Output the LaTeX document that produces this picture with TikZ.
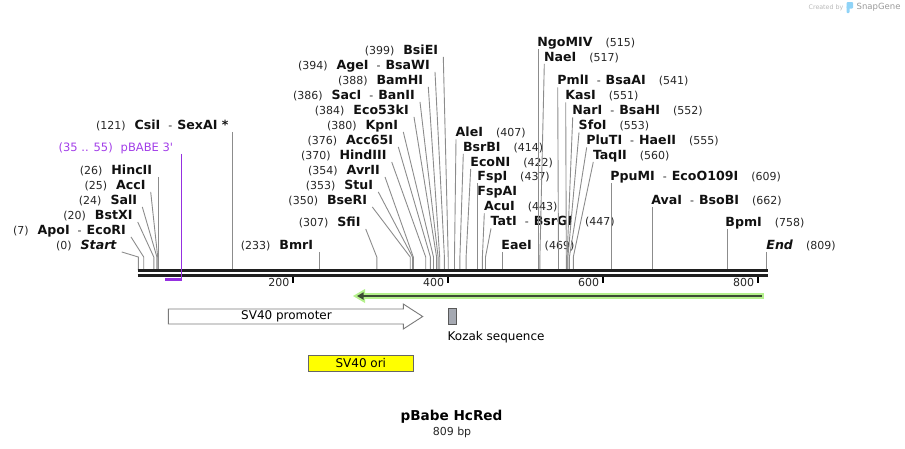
\documentclass[tikz,border=0pt]{standalone}
\usepackage{fontspec}
\setmainfont{DejaVu Sans}
\usetikzlibrary{arrows.meta}
\definecolor{conncol}{HTML}{8C8C8C}
\definecolor{labcol}{HTML}{111111}
\definecolor{numcol}{HTML}{262626}
\definecolor{purp}{HTML}{A23EE8}
\definecolor{purpline}{HTML}{9530E0}
\definecolor{greenglow}{HTML}{B4F08C}
\definecolor{greendark}{HTML}{3C4A34}
\definecolor{promgray}{HTML}{7A7A7A}
\definecolor{kozfill}{HTML}{A5A9B2}
\definecolor{oriyellow}{HTML}{FFFF00}
\definecolor{logoblue}{HTML}{8FD3F7}
\newcommand{\enz}[1]{{\fontsize{12.6}{14}\selectfont\bfseries #1}}
\newcommand{\bpnum}[1]{{\fontsize{11}{13}\selectfont\color{numcol}#1}}
\newcommand{\gapl}{\hspace{9pt}}
\newcommand{\gapr}{\hspace{13pt}}
\newcommand{\dashsep}{\hspace{8pt}\bpnum{-}\hspace{5pt}}
\begin{document}
\begin{tikzpicture}[x=1pt,y=-1pt,
  lab/.style={inner sep=0pt, text height=9pt, text depth=2.5pt, text=labcol},
  labl/.style={lab, anchor=east},
  labr/.style={lab, anchor=west},
  conn/.style={draw=conncol, line width=0.9pt},
  bb/.style={line width=2.9pt, draw=black!88},
  tickmark/.style={line width=2pt, draw=black},
  ticklab/.style={inner sep=0pt, font=\fontsize{11}{13}\selectfont, anchor=east, text=numcol},
  feattext/.style={font=\fontsize{12}{14}\selectfont, text=black}]

\useasboundingbox (0,0) rectangle (905,448);

% site coordinates on the backbone and elbows
\foreach \n/\x in {0/138.3, 7/143.7, 20/153.8, 24/156.9, 25/157.7, 26/158.5,
  55/181.0, 121/232.3, 233/319.3, 307/376.8, 350/410.2, 353/412.5, 354/413.3,
  370/425.7, 376/430.4, 380/433.5, 384/436.6, 386/438.1, 388/439.7, 394/444.4,
  399/448.2, 407/454.5, 414/459.9, 422/466.1, 437/477.8, 443/482.4, 447/485.5,
  469/502.6, 515/538.4, 517/539.9, 541/558.5, 551/566.3, 552/567.1, 553/567.9,
  555/569.4, 560/573.3, 609/611.4, 662/652.5, 758/727.1, 809/766.7}{
  \coordinate (s\n) at (\x,270);
  \coordinate (e\n) at (\x,257);
}

% ---------- left-hand labels ----------
\node[labl] (lStart) at (116.7,246) {\bpnum{(0)}\gapl\enz{\itshape Start}};
\node[labl] (lApo) at (126,231) {\bpnum{(7)}\gapl\enz{ApoI}\dashsep\enz{EcoRI}};
\node[labl] (lBstX) at (132.7,216) {\bpnum{(20)}\gapl\enz{BstXI}};
\node[labl] (lSal) at (137.3,201) {\bpnum{(24)}\gapl\enz{SalI}};
\node[labl] (lAcc) at (145.7,186) {\bpnum{(25)}\gapl\enz{AccI}};
\node[labl] (lHinc) at (152.3,171) {\bpnum{(26)}\gapl\enz{HincII}};
\node[labl, text=purp] (lPb) at (173.3,148) {{\fontsize{11.5}{14}\selectfont (35 .. 55)\hspace{8pt}pBABE 3\textquotesingle}};
\node[labl] (lCsi) at (228.7,126) {\bpnum{(121)}\gapl\enz{CsiI}\dashsep\enz{SexAI *}};
\node[labl] (lBmr) at (313.3,246) {\bpnum{(233)}\gapl\enz{BmrI}};
\node[labl] (lSfi) at (360.7,223) {\bpnum{(307)}\gapl\enz{SfiI}};
\node[labl] (lBseR) at (367.3,201) {\bpnum{(350)}\gapl\enz{BseRI}};
\node[labl] (lStu) at (373.3,186) {\bpnum{(353)}\gapl\enz{StuI}};
\node[labl] (lAvr) at (380,171) {\bpnum{(354)}\gapl\enz{AvrII}};
\node[labl] (lHind) at (386.7,156) {\bpnum{(370)}\gapl\enz{HindIII}};
\node[labl] (lAcc65) at (393.3,141) {\bpnum{(376)}\gapl\enz{Acc65I}};
\node[labl] (lKpn) at (398.3,126) {\bpnum{(380)}\gapl\enz{KpnI}};
\node[labl] (lEco53) at (409,111) {\bpnum{(384)}\gapl\enz{Eco53kI}};
\node[labl] (lSac) at (415,96) {\bpnum{(386)}\gapl\enz{SacI}\dashsep\enz{BanII}};
\node[labl] (lBam) at (423.3,81) {\bpnum{(388)}\gapl\enz{BamHI}};
\node[labl] (lAge) at (430,66) {\bpnum{(394)}\gapl\enz{AgeI}\dashsep\enz{BsaWI}};
\node[labl] (lBsiE) at (438.3,51) {\bpnum{(399)}\gapl\enz{BsiEI}};

% ---------- right-hand labels ----------
\node[labr] (rAle) at (455.5,133.5) {\enz{AleI}\gapr\bpnum{(407)}};
\node[labr] (rBsrB) at (462.8,148) {\enz{BsrBI}\gapr\bpnum{(414)}};
\node[labr] (rEcoN) at (470.2,163) {\enz{EcoNI}\gapr\bpnum{(422)}};
\node[labr] (rFsp) at (477.2,177.5) {\enz{FspI}\gapr\bpnum{(437)}};
\node[labr] (rFspA) at (477.2,192.5) {\enz{FspAI}};
\node[labr] (rAcu) at (483.8,207.5) {\enz{AcuI}\gapr\bpnum{(443)}};
\node[labr] (rTat) at (490.5,222.5) {\enz{TatI}\dashsep\enz{BsrGI}\gapr\bpnum{(447)}};
\node[labr] (rEae) at (501.2,246) {\enz{EaeI}\gapr\bpnum{(469)}};
\node[labr] (rNgo) at (537.2,43.5) {\enz{NgoMIV}\gapr\bpnum{(515)}};
\node[labr] (rNae) at (543.8,58) {\enz{NaeI}\gapr\bpnum{(517)}};
\node[labr] (rPml) at (557.2,81.5) {\enz{PmlI}\dashsep\enz{BsaAI}\gapr\bpnum{(541)}};
\node[labr] (rKas) at (565.2,96.5) {\enz{KasI}\gapr\bpnum{(551)}};
\node[labr] (rNar) at (572.2,111.5) {\enz{NarI}\dashsep\enz{BsaHI}\gapr\bpnum{(552)}};
\node[labr] (rSfo) at (578.5,126.5) {\enz{SfoI}\gapr\bpnum{(553)}};
\node[labr] (rPlu) at (586.2,141.5) {\enz{PluTI}\dashsep\enz{HaeII}\gapr\bpnum{(555)}};
\node[labr] (rTaq) at (592.8,156) {\enz{TaqII}\gapr\bpnum{(560)}};
\node[labr] (rPpu) at (610.2,177.5) {\enz{PpuMI}\dashsep\enz{EcoO109I}\gapr\bpnum{(609)}};
\node[labr] (rAva) at (651.2,201) {\enz{AvaI}\dashsep\enz{BsoBI}\gapr\bpnum{(662)}};
\node[labr] (rBpm) at (725.2,223) {\enz{BpmI}\gapr\bpnum{(758)}};
\node[labr] (rEnd) at (766.2,246) {\enz{\itshape End}\gapr\bpnum{(809)}};

% ---------- connectors ----------
\draw[conn] ([xshift=5pt]lStart.south east) -- (e0) -- (s0);
\draw[conn] ([xshift=5pt]lApo.south east) -- (e7) -- (s7);
\draw[conn] ([xshift=5pt]lBstX.south east) -- (e20) -- (s20);
\draw[conn] ([xshift=5pt]lSal.south east) -- (e24) -- (s24);
\draw[conn] ([xshift=5pt]lAcc.south east) -- (e25) -- (s25);
\draw[conn] (s26 |- lHinc.south) -- (s26);
\draw[conn] (s121 |- lCsi.south) -- (s121);
\draw[conn] (s233 |- lBmr.south) -- (s233);
\draw[conn] ([xshift=5pt]lSfi.south east) -- (e307) -- (s307);
\draw[conn] ([xshift=5pt]lBseR.south east) -- (e350) -- (s350);
\draw[conn] ([xshift=5pt]lStu.south east) -- (e353) -- (s353);
\draw[conn] ([xshift=5pt]lAvr.south east) -- (e354) -- (s354);
\draw[conn] ([xshift=5pt]lHind.south east) -- (e370) -- (s370);
\draw[conn] ([xshift=5pt]lAcc65.south east) -- (e376) -- (s376);
\draw[conn] ([xshift=5pt]lKpn.south east) -- (e380) -- (s380);
\draw[conn] ([xshift=5pt]lEco53.south east) -- (e384) -- (s384);
\draw[conn] ([xshift=5pt]lSac.south east) -- (e386) -- (s386);
\draw[conn] ([xshift=5pt]lBam.south east) -- (e388) -- (s388);
\draw[conn] ([xshift=5pt]lAge.south east) -- (e394) -- (s394);
\draw[conn] ([xshift=5pt]lBsiE.south east) -- (e399) -- (s399);

\draw[conn] ([xshift=0.5pt]rAle.south west) -- (e407) -- (s407);
\draw[conn] ([xshift=0.5pt]rBsrB.south west) -- (e414) -- (s414);
\draw[conn] ([xshift=0.5pt]rEcoN.south west) -- (e422) -- (s422);
\draw[conn] (s437 |- rFsp.south) -- (s437);
\draw[conn] (s437 |- rFspA.south) -- (s437);
\draw[conn] ([xshift=0.5pt]rAcu.south west) -- (e443) -- (s443);
\draw[conn] ([xshift=0.5pt]rTat.south west) -- (e447) -- (s447);
\draw[conn] (s469 |- rEae.south) -- (s469);
\draw[conn] (s515 |- rNgo.south) -- (s515);
\draw[conn] ([xshift=0.5pt]rNae.south west) -- (e517) -- (s517);
\draw[conn] ([xshift=0.5pt]rPml.south west) -- (e541) -- (s541);
\draw[conn] ([xshift=0.5pt]rKas.south west) -- (e551) -- (s551);
\draw[conn] ([xshift=0.5pt]rNar.south west) -- (e552) -- (s552);
\draw[conn] ([xshift=0.5pt]rSfo.south west) -- (e553) -- (s553);
\draw[conn] ([xshift=0.5pt]rPlu.south west) -- (e555) -- (s555);
\draw[conn] ([xshift=0.5pt]rTaq.south west) -- (e560) -- (s560);
\draw[conn] (s609 |- rPpu.south) -- (s609);
\draw[conn] (s662 |- rAva.south) -- (s662);
\draw[conn] (s758 |- rBpm.south) -- (s758);
\draw[conn] (s809 |- rEnd.south) -- (s809);

% ---------- backbone ----------
\coordinate (bbL) at (137.5,270.6);
\coordinate (bbR) at (767.5,270.6);
\coordinate (bbL2) at (137.5,275.2);
\coordinate (bbR2) at (767.5,275.2);
\draw[bb] (bbL) -- (bbR);
\draw[bb] (bbL2) -- (bbR2);

% pBABE 3' primer
\coordinate (pbTop) at (s55 |- lPb.south);
\coordinate (pbBot) at (181,280.5);
\coordinate (pbLeft) at (165,279.3);
\draw[purpline, line width=1pt] (pbTop) -- (pbBot);
\draw[purpline, line width=2.4pt] (pbLeft) -- (181.5,279.3);

% ---------- ticks ----------
\foreach \t/\x in {200/293, 400/447.7, 600/602.7, 800/757.7}{
  \coordinate (tk\t) at (\x,277);
  \draw[tickmark] (tk\t) -- ++(0,6);
  \node[ticklab] (tl\t) at (\x-3.5,282) {\t};
}

% ---------- green ORF arrow ----------
\coordinate (gL) at (357,296);
\coordinate (gR) at (761.5,296);
\draw[greenglow, line width=6.5pt] (359,296) -- (763.5,296);
\fill[greenglow] (353,296) -- (365,289) -- (365,303) -- cycle;
\draw[greendark, line width=2.4pt, -{Triangle[length=6.5pt,width=7pt]}] (gR) -- (gL);

% ---------- SV40 promoter ----------
\draw[promgray, fill=white, line width=0.9pt]
  (168.3,309) -- (403.3,309) -- (403.3,304) -- (422.7,316.5) -- (403.3,329)
  -- (403.3,324) -- (168.3,324) -- cycle;
\node[feattext] (promlab) at (286.5,316.5) {SV40 promoter};

% ---------- Kozak ----------
\node[draw=black!65, fill=kozfill, line width=0.8pt, minimum width=8pt, minimum height=15.7pt,
  inner sep=0pt, anchor=north west] (koz) at (448.3,308.3) {};
\node[feattext, anchor=west, inner sep=0pt] (kozlab) at (447.5,337.5) {Kozak sequence};

% ---------- SV40 ori ----------
\node[draw=black!60, fill=oriyellow, line width=0.9pt, minimum width=105pt, minimum height=16.3pt,
  inner sep=0pt, feattext] (ori) at (360.8,363.2) {SV40 ori};

% ---------- title ----------
\node[inner sep=0pt, font=\fontsize{13.6}{16}\selectfont\bfseries] (title) at (451.5,416.5) {pBabe HcRed};
\node[inner sep=0pt, font=\fontsize{11}{13}\selectfont, text=numcol] (size) at (452,432.5) {809 bp};

% ---------- logo ----------
\node[inner sep=0pt, font=\fontsize{6.3}{8}\selectfont, text=black!28, anchor=east] (created) at (843.5,7.5) {Created by};
\fill[logoblue, rounded corners=1pt] (846.5,2) rectangle (853,8.5);
\fill[logoblue, rounded corners=0.8pt] (846.5,6) rectangle (849.5,13);
\node[inner sep=0pt, font=\fontsize{8.5}{10}\selectfont, text=black!40, anchor=west] (snapgene) at (856.5,7.5) {SnapGene};
\end{tikzpicture}
\end{document}
